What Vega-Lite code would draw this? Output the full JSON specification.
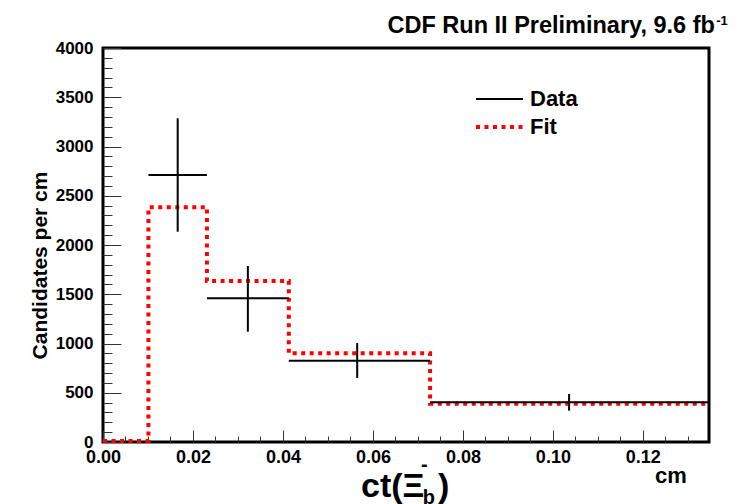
{
  "$schema": "https://vega.github.io/schema/vega-lite/v6.json",
  "width": 606,
  "height": 394,
  "autosize": "none",
  "padding": {"left": 103, "top": 48, "right": 38, "bottom": 62},
  "background": "white",
  "config": {
    "view": {"stroke": "black", "strokeWidth": 3},
    "font": "Liberation Sans",
    "axis": {
      "grid": false,
      "domain": false,
      "labelFont": "Liberation Sans",
      "labelFontWeight": "bold",
      "labelColor": "black",
      "tickColor": "#333333",
      "tickWidth": 1,
      "labelOverlap": false,
      "labelFlush": false,
      "labelBound": false,
      "title": null
    }
  },
  "resolve": {"axis": {"x": "independent", "y": "independent"}},
  "datasets": {
    "fit": [
      {"ct": 0.0, "rate": 10, "series": "Fit"},
      {"ct": 0.0101, "rate": 2383, "series": "Fit"},
      {"ct": 0.0231, "rate": 1635, "series": "Fit"},
      {"ct": 0.0413, "rate": 900, "series": "Fit"},
      {"ct": 0.0727, "rate": 388, "series": "Fit"},
      {"ct": 0.1347, "rate": 388, "series": "Fit"}
    ],
    "points": [
      {"ct": 0.0166, "ctLo": 0.0101, "ctHi": 0.0231, "rate": 2711, "rateLo": 2135, "rateHi": 3286, "series": "Data"},
      {"ct": 0.0322, "ctLo": 0.0231, "ctHi": 0.0413, "rate": 1459, "rateLo": 1120, "rateHi": 1787, "series": "Data"},
      {"ct": 0.0565, "ctLo": 0.0413, "ctHi": 0.0727, "rate": 825, "rateLo": 650, "rateHi": 1005, "series": "Data"},
      {"ct": 0.1036, "ctLo": 0.0727, "ctHi": 0.1347, "rate": 403, "rateLo": 318, "rateHi": 487, "series": "Data"}
    ]
  },
  "layer": [
    {
      "data": {"name": "fit"},
      "mark": {"type": "line", "interpolate": "step-after", "clip": false, "strokeDash": [4, 4.5], "strokeWidth": 4},
      "encoding": {
        "x": {
          "field": "ct", "type": "quantitative",
          "scale": {"domain": [0, 0.1347], "nice": false, "zero": false},
          "axis": {
            "orient": "bottom",
            "values": [0, 0.02, 0.04, 0.06, 0.08, 0.1, 0.12],
            "format": ".2f",
            "tickSize": -12,
            "labelFontSize": 18,
            "labelPadding": 18
          }
        },
        "y": {
          "field": "rate", "type": "quantitative",
          "scale": {"domain": [0, 4000], "nice": false},
          "axis": {
            "orient": "left",
            "values": [0, 500, 1000, 1500, 2000, 2500, 3000, 3500, 4000],
            "format": "d",
            "tickSize": -18,
            "labelFontSize": 17,
            "labelPadding": 28,
            "title": "Candidates per cm",
            "titleFont": "Liberation Sans",
            "titleFontSize": 21,
            "titleFontWeight": "bold",
            "titleColor": "black",
            "titleAngle": -90,
            "titleAlign": "center",
            "titleBaseline": "alphabetic",
            "titleX": -57,
            "titleY": 217
          }
        },
        "color": {
          "field": "series", "type": "nominal",
          "scale": {"domain": ["Data", "Fit"], "range": ["black", "#ff0000"]},
          "legend": {
            "orient": "none",
            "legendX": 385.5,
            "legendY": 40,
            "title": null,
            "symbolType": "stroke",
            "symbolSize": 2209,
            "labelFont": "Liberation Sans",
            "labelFontWeight": 700,
            "labelFontSize": 22,
            "labelColor": "black",
            "labelOffset": 19.5,
            "rowPadding": 6,
            "encode": {
              "symbols": {
                "update": {
                  "strokeDash": {"signal": "datum.value === 'Fit' ? [4, 4.5] : [1, 0]"},
                  "strokeWidth": {"signal": "datum.value === 'Fit' ? 4 : 2"}
                }
              },
              "labels": {
                "update": {
                  "fontWeight": {"value": 700},
                  "fontSize": {"value": 22},
                  "font": {"value": "Liberation Sans"}
                }
              }
            }
          }
        }
      }
    },
    {
      "data": {"name": "points"},
      "mark": {"type": "rule", "strokeWidth": 2},
      "encoding": {
        "x": {
          "field": "ctLo", "type": "quantitative",
          "axis": {
            "orient": "bottom",
            "values": [0.005, 0.01, 0.015, 0.025, 0.03, 0.035, 0.045, 0.05, 0.055, 0.065, 0.07, 0.075, 0.085, 0.09, 0.095, 0.105, 0.11, 0.115, 0.125, 0.13],
            "labels": false,
            "tickSize": -6
          }
        },
        "x2": {"field": "ctHi"},
        "y": {
          "field": "rate", "type": "quantitative",
          "axis": {
            "orient": "left",
            "values": [100, 200, 300, 400, 600, 700, 800, 900, 1100, 1200, 1300, 1400, 1600, 1700, 1800, 1900, 2100, 2200, 2300, 2400, 2600, 2700, 2800, 2900, 3100, 3200, 3300, 3400, 3600, 3700, 3800, 3900],
            "labels": false,
            "tickSize": -9
          }
        },
        "color": {"field": "series", "type": "nominal"}
      }
    },
    {
      "data": {"name": "points"},
      "mark": {"type": "rule", "strokeWidth": 2},
      "encoding": {
        "x": {"field": "ct", "type": "quantitative", "axis": null},
        "y": {"field": "rateLo", "type": "quantitative", "axis": null},
        "y2": {"field": "rateHi"},
        "color": {"field": "series", "type": "nominal"}
      }
    },
    {
      "data": {"values": [{}]},
      "mark": {"type": "text", "text": "CDF Run II Preliminary, 9.6 fb", "align": "right", "baseline": "alphabetic", "fontSize": 23.5, "fontWeight": "bold", "font": "Liberation Sans", "color": "black", "clip": false},
      "encoding": {"x": {"datum": 0.1360, "type": "quantitative", "axis": null}, "y": {"datum": 4152, "type": "quantitative", "axis": null}}
    },
    {
      "data": {"values": [{}]},
      "mark": {"type": "text", "text": "-1", "align": "left", "baseline": "alphabetic", "fontSize": 13, "fontWeight": "bold", "font": "Liberation Sans", "color": "black", "clip": false},
      "encoding": {"x": {"datum": 0.1363, "type": "quantitative", "axis": null}, "y": {"datum": 4233, "type": "quantitative", "axis": null}}
    },
    {
      "data": {"values": [{}]},
      "mark": {"type": "text", "text": "ct(Ξ", "align": "left", "baseline": "alphabetic", "fontSize": 34, "fontWeight": "bold", "font": "Liberation Sans", "color": "black", "clip": false},
      "encoding": {"x": {"datum": 0.05735, "type": "quantitative", "axis": null}, "y": {"datum": -558, "type": "quantitative", "axis": null}}
    },
    {
      "data": {"values": [{}]},
      "mark": {"type": "text", "text": "-", "align": "left", "baseline": "alphabetic", "fontSize": 20, "fontWeight": "bold", "font": "Liberation Sans", "color": "black", "clip": false},
      "encoding": {"x": {"datum": 0.0707, "type": "quantitative", "axis": null}, "y": {"datum": -294, "type": "quantitative", "axis": null}}
    },
    {
      "data": {"values": [{}]},
      "mark": {"type": "text", "text": "b", "align": "left", "baseline": "alphabetic", "fontSize": 20, "fontWeight": "bold", "font": "Liberation Sans", "color": "black", "clip": false},
      "encoding": {"x": {"datum": 0.0711, "type": "quantitative", "axis": null}, "y": {"datum": -630, "type": "quantitative", "axis": null}}
    },
    {
      "data": {"values": [{}]},
      "mark": {"type": "text", "text": ")", "align": "left", "baseline": "alphabetic", "fontSize": 34, "fontWeight": "bold", "font": "Liberation Sans", "color": "black", "clip": false},
      "encoding": {"x": {"datum": 0.07446, "type": "quantitative", "axis": null}, "y": {"datum": -558, "type": "quantitative", "axis": null}}
    },
    {
      "data": {"values": [{}]},
      "mark": {"type": "text", "text": "cm", "align": "left", "baseline": "alphabetic", "fontSize": 22, "fontWeight": "bold", "font": "Liberation Sans", "color": "black", "clip": false},
      "encoding": {"x": {"datum": 0.1227, "type": "quantitative", "axis": null}, "y": {"datum": -416, "type": "quantitative", "axis": null}}
    }
  ]
}
